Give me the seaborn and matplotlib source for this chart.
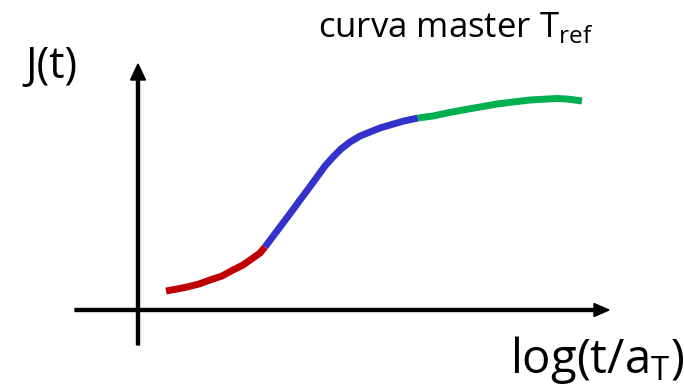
import matplotlib
matplotlib.use("Agg")
import matplotlib.pyplot as plt
import seaborn as sns
import pandas as pd

sns.set_theme(style="white")
plt.rcParams["font.family"] = ["Open Sans", "DejaVu Sans"]
plt.rcParams["mathtext.fontset"] = "custom"
plt.rcParams["mathtext.rm"] = "Open Sans"

# Master curve J(t) vs log(t/aT), split into its three regions
red_x = [0.28, 0.39, 0.49, 0.61, 0.72, 0.84, 0.95, 1.05, 1.15, 1.22, 1.27]
red_y = [0.19, 0.21, 0.23, 0.26, 0.30, 0.34, 0.40, 0.45, 0.52, 0.57, 0.63]
blue_x = [1.27, 1.36, 1.45, 1.54, 1.62, 1.71, 1.79, 1.87, 1.95, 2.03, 2.12,
          2.22, 2.32, 2.42, 2.52, 2.66, 2.80]
blue_y = [0.63, 0.75, 0.87, 0.99, 1.10, 1.22, 1.33, 1.44, 1.53, 1.61, 1.68,
          1.74, 1.78, 1.82, 1.85, 1.89, 1.92]
green_x = [2.80, 2.95, 3.09, 3.25, 3.42, 3.59, 3.75, 3.92, 4.09, 4.19, 4.29, 4.37, 4.44]
green_y = [1.92, 1.94, 1.97, 2.00, 2.03, 2.06, 2.08, 2.10, 2.11, 2.115, 2.11, 2.10, 2.09]

segments = ["vetroso", "transizione", "gommoso"]
colors = ["#C00000", "#3333CC", "#00B050"]

title_text = r"curva master T$_\mathregular{ref}$"
y_label = "J(t)"
x_label = r"log(t/a$_\mathregular{T}$)"

frames = []
for name, xs, ys in zip(segments, [red_x, blue_x, green_x], [red_y, blue_y, green_y]):
    frames.append(pd.DataFrame({"x": xs, "y": ys, "segment": name}))
df = pd.concat(frames, ignore_index=True)

fig = plt.figure(figsize=(6.84, 3.86), dpi=100)
ax = fig.add_axes([0, 0, 1, 1])
ax.set_xlim(-1.38, 5.46)
ax.set_ylim(-0.76, 3.10)
ax.axis("off")

# axes with arrow heads
ax.arrow(-0.63, 0.0, 5.34, 0.0, width=0.03, head_width=0.13, head_length=0.15,
         length_includes_head=True, color="black", zorder=2)
ax.arrow(0.0, -0.35, 0.0, 2.81, width=0.03, head_width=0.15, head_length=0.16,
         length_includes_head=True, color="black", zorder=2)

sns.lineplot(data=df, x="x", y="y", hue="segment", hue_order=segments,
             palette=dict(zip(segments, colors)), estimator=None,
             sort=False, linewidth=5, legend=False, ax=ax, zorder=3,
             solid_capstyle="butt", solid_joinstyle="round")

ax.text(1.80, 2.73, title_text, fontsize=25, ha="left", va="baseline", color="black")
ax.text(-1.13, 2.32, y_label, fontsize=31, ha="left", va="baseline", color="black")
ax.text(3.72, -0.63, x_label, fontsize=34, ha="left", va="baseline", color="black")

fig.savefig("out.png", dpi=100)
